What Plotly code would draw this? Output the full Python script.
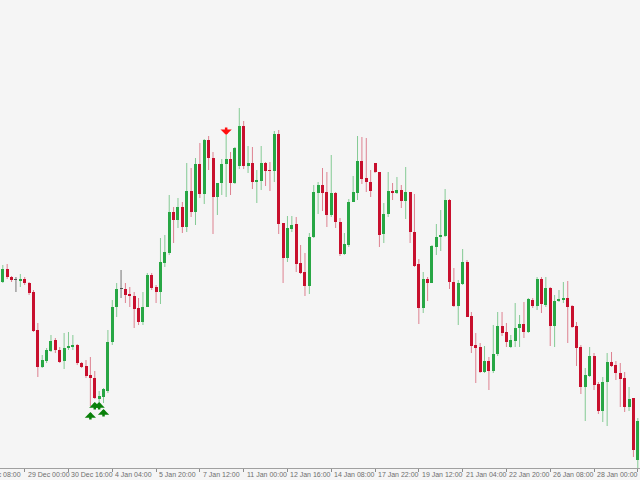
import plotly.graph_objects as go

# H4 bars, numbered so that bar 0 sits on the "29 Dec 00:00" tick
bar_index = list(range(-6, 141))

opens = [
    710, 718, 731, 723, 720, 719,
    721, 717, 708, 670, 633, 639, 649, 660, 650, 639,
    652, 653, 655, 637, 634, 625, 622, 601, 603, 609,
    658, 693, 711, 711, 706, 704, 692, 678, 693, 725,
    713, 708, 737, 747, 788, 780, 793, 773, 809, 788,
    836, 806, 860, 842, 803, 817, 836, 841, 817, 834,
    874, 834, 837, 818, 819, 837, 830, 829, 866, 777,
    742, 771, 776, 737, 728, 714, 763, 807, 815, 808,
    785, 807, 778, 746, 755, 798, 807, 839, 822, 818,
    837, 828, 766, 786, 809, 807, 810, 799, 808, 768,
    736, 692, 721, 717, 753, 763, 764, 800, 718, 694,
    716, 738, 684, 655, 653, 628, 639, 629, 646, 674,
    668, 653, 659, 672, 676, 668, 700, 694, 721, 695,
    712, 674, 699, 700, 702, 694, 674, 653, 613, 624,
    644, 616, 589, 618, 638, 635, 627, 622, 593, 602,
    540,
]
highs = [
    720, 735, 736, 724, 723, 726,
    723, 718, 710, 677, 645, 652, 665, 662, 653, 667,
    668, 665, 656, 638, 640, 643, 629, 609, 612, 670,
    700, 717, 730, 717, 713, 708, 702, 708, 727, 727,
    715, 762, 765, 805, 793, 802, 798, 837, 832, 842,
    857, 861, 864, 848, 817, 841, 865, 848, 853, 892,
    879, 854, 853, 830, 854, 838, 838, 869, 870, 777,
    784, 784, 783, 755, 747, 767, 815, 818, 832, 828,
    845, 808, 782, 767, 801, 824, 864, 863, 862, 830,
    837, 828, 797, 828, 817, 823, 815, 833, 808, 806,
    741, 728, 723, 755, 776, 790, 811, 801, 732, 720,
    751, 740, 688, 667, 657, 654, 643, 675, 688, 688,
    677, 665, 697, 685, 698, 702, 702, 723, 723, 723,
    713, 705, 710, 718, 719, 695, 678, 655, 632, 653,
    647, 618, 623, 647, 648, 639, 637, 628, 613, 602,
    582,
]
lows = [
    708, 717, 721, 718, 708, 713,
    715, 705, 668, 623, 632, 637, 648, 647, 637, 631,
    650, 650, 635, 632, 622, 594, 601, 593, 597, 607,
    655, 683, 702, 697, 693, 672, 675, 675, 693, 710,
    697, 696, 733, 745, 757, 772, 767, 768, 783, 775,
    802, 796, 830, 766, 785, 805, 803, 805, 816, 831,
    831, 827, 811, 797, 810, 814, 809, 818, 766, 717,
    738, 768, 728, 726, 704, 706, 762, 786, 789, 773,
    783, 772, 744, 745, 753, 798, 800, 816, 808, 803,
    827, 753, 757, 783, 800, 806, 792, 781, 757, 733,
    676, 687, 699, 717, 745, 749, 763, 711, 693, 675,
    715, 683, 647, 617, 627, 627, 610, 627, 644, 664,
    653, 652, 653, 653, 662, 667, 692, 690, 687, 693,
    654, 653, 698, 697, 657, 672, 634, 606, 579, 623,
    610, 586, 578, 574, 633, 620, 593, 588, 589, 543,
    520,
]
closes = [
    717, 731, 723, 720, 720, 721,
    717, 707, 669, 633, 640, 650, 659, 650, 638, 652,
    654, 655, 637, 633, 624, 622, 602, 604, 611, 658,
    693, 711, 711, 705, 704, 691, 678, 693, 725, 712,
    708, 738, 748, 788, 780, 793, 773, 809, 788, 836,
    806, 860, 842, 803, 817, 836, 841, 817, 852, 874,
    834, 837, 818, 820, 837, 829, 829, 866, 776, 742,
    772, 775, 736, 727, 714, 763, 808, 815, 807, 785,
    807, 778, 746, 756, 798, 808, 839, 821, 818, 809,
    828, 765, 786, 809, 807, 810, 799, 808, 768, 734,
    692, 721, 717, 754, 763, 765, 800, 718, 694, 717,
    738, 683, 654, 652, 628, 639, 629, 646, 674, 667,
    658, 660, 672, 676, 668, 701, 694, 721, 696, 712,
    674, 699, 701, 702, 693, 673, 652, 613, 625, 644,
    615, 589, 618, 638, 634, 627, 621, 593, 601, 550,
    579,
]

tick_index = list(range(0, 141, 10))
tick_labels = [
    "29 Dec 00:00", "30 Dec 16:00", "4 Jan 04:00",
    "5 Jan 20:00", "7 Jan 12:00", "11 Jan 00:00", "12 Jan 16:00",
    "14 Jan 08:00", "17 Jan 22:00", "19 Jan 12:00", "21 Jan 04:00",
    "22 Jan 20:00", "26 Jan 08:00", "28 Jan 00:00", "29 Jan 16:00",
]
# label of the tick that has already scrolled off the left edge
first_label = "27 Dec 08:00"

# signal arrows (bar, price at the arrow tip)
buy_index = [15, 16, 17, 18]
buy_price = [588, 598, 598, 591]
sell_index = [46]
sell_price = [865]

BG = "#f5f5f5"
LABEL_FONT = dict(family="Liberation Sans", size=7, color="#6e6e6e")
styles = {
    "bull": ("#28a745", "rgba(40,167,69,0.55)"),
    "bear": ("#c8102e", "rgba(200,16,46,0.5)"),
    "doji": ("#555555", "rgba(85,85,85,0.8)"),
}


def kind(o, c):
    if c > o:
        return "bull"
    if c < o:
        return "bear"
    return "doji"


fig = go.Figure()

for name, (body_col, wick_col) in styles.items():
    wx, wy = [], []
    bx, base, height = [], [], []
    for k, o, h, l, c in zip(bar_index, opens, highs, lows, closes):
        if kind(o, c) != name:
            continue
        wx += [k, k, None]
        wy += [l, h, None]
        bx.append(k)
        base.append(min(o, c))
        height.append(max(abs(c - o), 1))
    fig.add_trace(go.Scatter(x=wx, y=wy, mode="lines",
                             line=dict(color=wick_col, width=1),
                             hoverinfo="skip", showlegend=False))
    fig.add_trace(go.Bar(x=bx, y=height, base=base, width=0.68,
                         marker=dict(color=body_col, line=dict(width=0)),
                         showlegend=False))

annotations = []
for k, p in zip(buy_index, buy_price):
    annotations.append(dict(x=k, y=p, xref="x", yref="y", text="", showarrow=True,
                            ax=0, ay=9, arrowhead=1, arrowsize=0.75, arrowwidth=2.5,
                            arrowcolor="#0a800a", standoff=0))
for k, p in zip(sell_index, sell_price):
    annotations.append(dict(x=k, y=p, xref="x", yref="y", text="", showarrow=True,
                            ax=0, ay=-9, arrowhead=1, arrowsize=0.75, arrowwidth=2.5,
                            arrowcolor="#ff1010", standoff=0))
for k, lab in zip(tick_index, tick_labels):
    annotations.append(dict(x=k, y=0, xref="x", yref="paper", text=lab,
                            showarrow=False, xanchor="left", yanchor="top",
                            xshift=1, yshift=-1, font=LABEL_FONT))
annotations.append(dict(x=0, y=0, xref="paper", yref="paper", text=first_label,
                        showarrow=False, xanchor="right", yanchor="top",
                        xshift=23, yshift=-1, font=LABEL_FONT))

fig.update_layout(
    width=640, height=480,
    margin=dict(l=0, r=0, t=0, b=12),
    paper_bgcolor=BG, plot_bgcolor=BG,
    barmode="overlay", bargap=0,
    showlegend=False,
    annotations=annotations,
)
fig.update_xaxes(range=[-5.64, 140.5], tickvals=tick_index, showticklabels=False,
                 ticks="outside", ticklen=3, tickcolor="#8c8c8c",
                 showline=True, linecolor="#a0a0a0", linewidth=1,
                 showgrid=False, zeroline=False)
fig.update_yaxes(range=[532, 1000], visible=False, showgrid=False)

# the page's default 8px body margin would push the chart off the window
fig.write_html("out.html", config={"displayModeBar": False},
               post_script="document.body.style.margin='0';document.body.style.overflow='hidden';")
